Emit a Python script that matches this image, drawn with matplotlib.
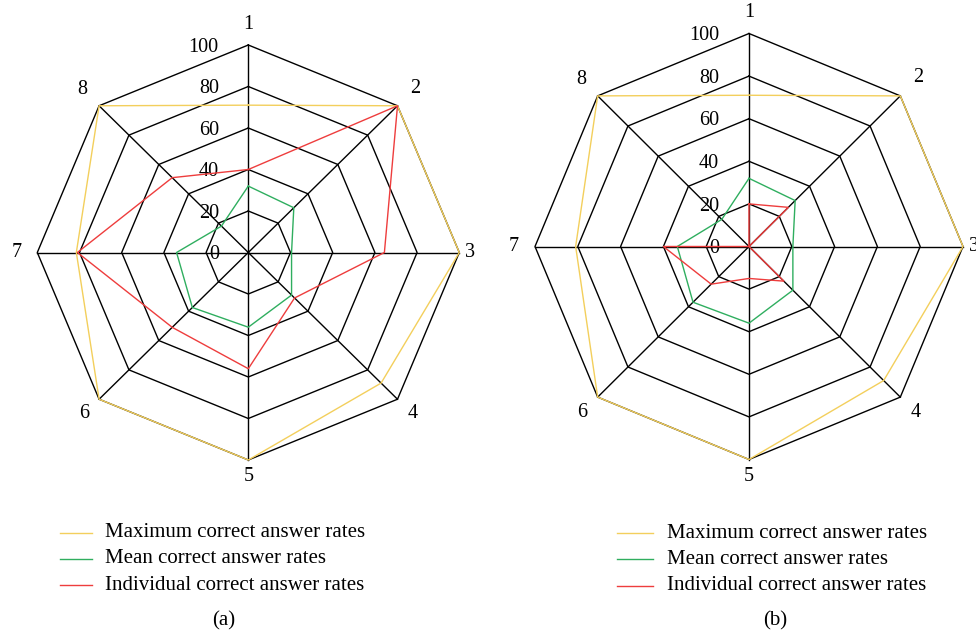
import numpy as np
import matplotlib.pyplot as plt
from matplotlib.lines import Line2D

# axis names and ring levels
axis_labels = ["1", "2", "3", "4", "5", "6", "7", "8"]
ring_values = [20, 40, 60, 80, 100]
ring_labels = ["0", "20", "40", "60", "80", "100"]
ring_label_values = [0, 20, 40, 60, 80, 100]

# panel (a)
max_rates_a = [71, 100, 100, 89, 100, 100, 81.5, 100]
mean_rates_a = [32, 30.5, 20.5, 29, 36, 37.5, 34, 18]
indiv_rates_a = [40, 100, 64.5, 31, 56, 51, 81, 51]

# panel (b)
max_rates_b = [71, 100, 100, 89, 100, 100, 81, 100]
mean_rates_b = [32, 30.5, 20.5, 29, 36, 37, 33.5, 18]
indiv_rates_b = [20, 26, 0, 23, 15, 25, 40, 0]

series_names = ["Maximum correct answer rates",
                "Mean correct answer rates",
                "Individual correct answer rates"]
series_colors = ["#f3cf5c", "#2fae5f", "#ee3d3d"]

plt.rcParams['font.family'] = ['Liberation Serif', 'DejaVu Serif']

W, H = 976, 635
fig = plt.figure(figsize=(W / 100, H / 100), dpi=100)

angles = np.deg2rad(90 - 45 * np.arange(len(axis_labels)))
# distance of the spoke numbers from the centre
label_radius = [110, 112, 105, 110, 108, 110, 110, 111]


def px(x, y):
    """pixel (from top-left) -> figure fraction"""
    return x / W, 1 - y / H


def polar_xy(values):
    r = np.asarray(values, dtype=float)
    x = r * np.cos(angles)
    y = r * np.sin(angles)
    return np.append(x, x[0]), np.append(y, y[0])


def radar_panel(cx, cy, sx, sy, series, lim=115):
    w = 2 * lim * sx
    h = 2 * lim * sy
    ax = fig.add_axes([(cx - w / 2) / W, (H - cy - h / 2) / H, w / W, h / H])
    ax.set_xlim(-lim, lim)
    ax.set_ylim(-lim, lim)
    ax.axis('off')

    # octagon grid
    for v in ring_values:
        gx, gy = polar_xy([v] * len(axis_labels))
        ax.plot(gx, gy, color='black', lw=1.0, clip_on=False, zorder=1)
    for a in angles:
        ax.plot([0, 100 * np.cos(a)], [0, 100 * np.sin(a)], color='black',
                lw=1.0, clip_on=False, zorder=1)

    for vals, c in zip(series, series_colors):
        dx, dy = polar_xy(vals)
        ax.plot(dx, dy, color=c, lw=1.0, clip_on=False, zorder=3)

    for lab, a, r in zip(axis_labels, angles, label_radius):
        ax.text(r * np.cos(a), r * np.sin(a), lab, fontsize=14.5,
                ha='center', va='center')
    for lab, v in zip(ring_labels, ring_label_values):
        ax.text(-14, v - 1, lab, fontsize=14.5, ha='right', va='center', zorder=2)
    return ax


radar_panel(248.3, 252.5, 2.11, 2.075, [max_rates_a, mean_rates_a, indiv_rates_a])
radar_panel(749, 246.5, 2.14, 2.13, [max_rates_b, mean_rates_b, indiv_rates_b])


def legend_block(x0, x1, xt, rows, caption, cap_x, cap_y):
    for name, c, y in zip(series_names, series_colors, rows):
        (fx0, fy), (fx1, _) = px(x0, y), px(x1, y)
        fig.add_artist(Line2D([fx0, fx1], [fy, fy], color=c, lw=1.0,
                              transform=fig.transFigure))
        tx, ty = px(xt, y)
        fig.text(tx, ty, name, fontsize=15, ha='left', va='center')
    cx, cy = px(cap_x, cap_y)
    fig.text(cx, cy, caption, fontsize=15, ha='center', va='center')


legend_block(60, 92, 105, [532.5, 558.5, 585], "(a)", 224, 621)
legend_block(617, 653, 667, [533.3, 559.3, 585.7], "(b)", 775, 621)

fig.savefig("out.png", dpi=100)
